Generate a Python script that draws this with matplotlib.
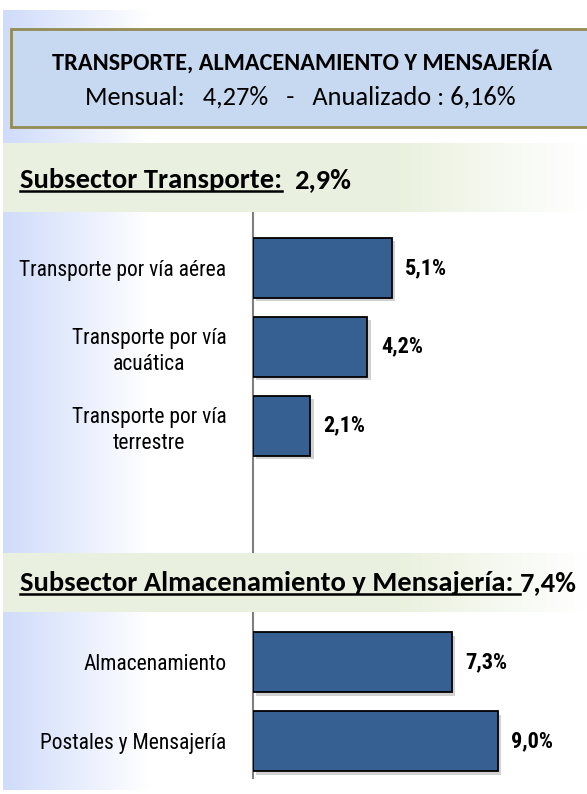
import numpy as np
import matplotlib
matplotlib.use("Agg")
import matplotlib.pyplot as plt
from matplotlib import font_manager
from matplotlib.lines import Line2D
from matplotlib.patches import Rectangle
import matplotlib.patheffects as pe

# data
title = "TRANSPORTE, ALMACENAMIENTO Y MENSAJERÍA"
subtitle = "Mensual:   4,27%   -   Anualizado : 6,16%"

transport_title = "Subsector Transporte:"
transport_total = "2,9%"
transport_labels = ["Transporte por vía aérea", "Transporte por vía\nacuática", "Transporte por vía\nterrestre"]
transport_values = [5.1, 4.2, 2.1]

storage_title = "Subsector Almacenamiento y Mensajería: "
storage_total = "7,4%"
storage_labels = ["Almacenamiento", "Postales y Mensajería"]
storage_values = [7.3, 9.0]


def pick_font(names):
    for n in names:
        try:
            font_manager.findfont(n, fallback_to_default=False)
            return n
        except Exception:
            pass
    return "DejaVu Sans"

narrow = pick_font(["Liberation Sans Narrow", "Arial Narrow", "Roboto Condensed", "Liberation Sans"])
calibri = pick_font(["Carlito", "Calibri", "Lato", "Open Sans"])

W, H = 587, 794
fig = plt.figure(figsize=(W / 100, H / 100), dpi=100)


def fx(x):
    return x / W


def fy(y):
    return 1 - y / H


# left gradient band
bg = fig.add_axes([fx(3), fy(790), fx(150 - 3), (790 - 10) / H], zorder=0)
grad = np.linspace(0, 1, 256)
left = np.array([0.81, 0.86, 0.98])
img = left[None, :] * (1 - grad[:, None]) + grad[:, None] * 1.0
bg.imshow(img[None, :, :], aspect="auto", extent=[0, 1, 0, 1])
bg.axis("off")

# header box
fig.add_artist(Rectangle((fx(11), fy(127)), fx(600 - 11), (127 - 29) / H,
                         transform=fig.transFigure, facecolor="#c6d9f1",
                         edgecolor="#948a54", linewidth=2, zorder=2))
fig.text(fx(302), fy(62), title, fontsize=17.5, fontweight="bold", family=calibri,
         ha="center", va="center", zorder=3)
fig.text(fx(300), fy(97), subtitle, fontsize=19, family=calibri,
         ha="center", va="center", zorder=3)


def banner(y0, y1):
    ax = fig.add_axes([fx(3), fy(y1), fx(587 - 3), (y1 - y0) / H], zorder=5)
    t = np.linspace(0, 1, 256)
    fade = np.clip((t - 0.68) / 0.32, 0, 1)
    c0 = np.array([0.92, 0.945, 0.875])
    row = c0[None, :] * (1 - fade[:, None]) + fade[:, None] * 1.0
    ax.imshow(row[None, :, :], aspect="auto", extent=[0, 1, 0, 1])
    ax.axis("off")
    return ax


banner(143, 212)
banner(553, 612)

# bar chart
ax = fig.add_axes([fx(253), fy(778), fx(587 - 253), (778 - 212) / H], zorder=3)
ax.patch.set_alpha(0)
pitch = 79.0
ax.set_ylim(6 + 37 / pitch, -56 / pitch)
ax.set_xlim(0, (587 - 253) / 27.2)

positions = [0, 1, 2, 5, 6]
labels = transport_labels + storage_labels
values = transport_values + storage_values

bars = ax.barh(positions, values, height=0.76, color="#376092",
               edgecolor="black", linewidth=1.3, zorder=3)
for b in bars:
    b.set_path_effects([pe.SimplePatchShadow(offset=(2.5, -2.5), shadow_rgbFace="0.6", alpha=0.45),
                        pe.Normal()])

for p, v in zip(positions, values):
    ax.text(v + 0.5, p, f"{v:.1f}%".replace(".", ","), va="center", ha="left",
            fontsize=16, fontweight="bold", family=narrow)

ax.set_yticks(positions)
ax.set_yticklabels(labels, fontsize=15.5, family=narrow, linespacing=1.3,
                   ha="right", multialignment="center")
ax.tick_params(axis="y", length=0, pad=19)
ax.set_xticks([])
for s in ["top", "right", "bottom"]:
    ax.spines[s].set_visible(False)
ax.spines["left"].set_color("#808080")
ax.spines["left"].set_linewidth(1.5)

# banner titles with underline
renderer = fig.canvas.get_renderer()


def banner_title(y, text, total, gap):
    t = fig.text(fx(20), fy(y), text, fontsize=20.5, fontweight="bold", family=calibri,
                 ha="left", va="baseline", zorder=10)
    bb = t.get_window_extent(renderer)
    fig.text((bb.x1 + gap) / W, fy(y), total,
             fontsize=20.5, fontweight="bold", family=calibri, ha="left", va="baseline", zorder=10)
    uy = (H - y) - 3
    fig.add_artist(Line2D([bb.x0 / W, bb.x1 / W], [uy / H, uy / H], transform=fig.transFigure,
                          color="black", linewidth=1.8, zorder=10))


banner_title(188, transport_title, transport_total, 12)
banner_title(591, storage_title, storage_total, 0)

fig.savefig("out.png", dpi=100, facecolor="white")
